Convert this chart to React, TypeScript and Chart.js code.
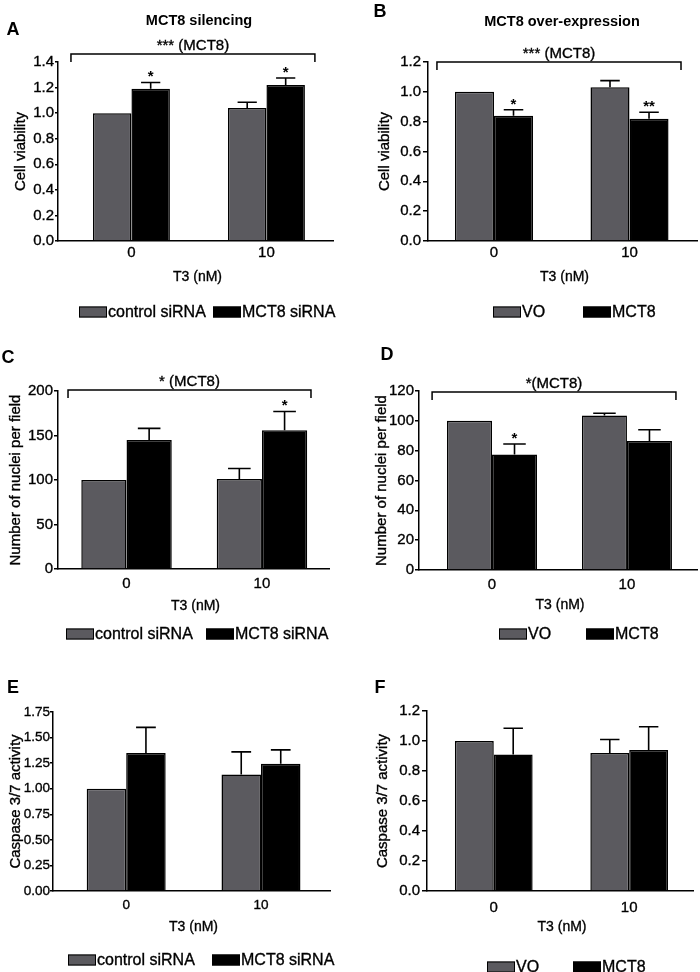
import React, { useEffect, useRef } from 'react';
import { Chart, registerables } from 'chart.js';

Chart.register(...registerables);

const FONT = '"Liberation Sans", Arial, Helvetica, sans-serif';
const GRAY = '#5b5a5f';
const BLACK = '#000000';

// x positions: T3 dose (nM)
const T3_DOSES = [0, 10];
const X_TITLE = 'T3 (nM)';

// A – cell viability, MCT8 silencing
const A_CONTROL = [1.0, 1.04];
const A_CONTROL_SEM = [0, 0.045];
const A_SIRNA = [1.19, 1.22];
const A_SIRNA_SEM = [0.05, 0.055];
const A_SIRNA_STARS = ['*', '*'];

// B – cell viability, MCT8 over-expression
const B_VO = [1.0, 1.03];
const B_VO_SEM = [0, 0.045];
const B_MCT8 = [0.84, 0.82];
const B_MCT8_SEM = [0.04, 0.043];
const B_MCT8_STARS = ['*', '**'];

// C – nuclei per field, MCT8 silencing
const C_CONTROL = [100, 101];
const C_CONTROL_SEM = [0, 12];
const C_SIRNA = [145, 156];
const C_SIRNA_SEM = [13, 21];
const C_SIRNA_STARS = ['', '*'];

// D – nuclei per field, MCT8 over-expression
const D_VO = [100, 103.5];
const D_VO_SEM = [0, 1.6];
const D_MCT8 = [77.5, 86.5];
const D_MCT8_SEM = [7, 7.5];
const D_MCT8_STARS = ['*', ''];

// E – caspase 3/7, MCT8 silencing
const E_CONTROL = [1.0, 1.14];
const E_CONTROL_SEM = [0, 0.22];
const E_SIRNA = [1.35, 1.245];
const E_SIRNA_SEM = [0.25, 0.135];

// F – caspase 3/7, MCT8 over-expression
const F_VO = [1.0, 0.92];
const F_VO_SEM = [0, 0.09];
const F_MCT8 = [0.91, 0.94];
const F_MCT8_SEM = [0.175, 0.155];

const NO_STARS = ['', ''];

type Series = { label: string; color: string; values: number[]; errors: number[]; stars: string[] };
type PanelSpec = {
  box: { x: number; y: number; w: number; h: number };
  area: { l: number; r: number; t: number; b: number };
  xMin: number; xMax: number;
  yMax: number; yStep: number; yDec: number; yTitle: string; yTitleX: number; yTickLen: number; yTickPad: number;
  tickSize: number;
  xTickCenter: number; xTitleY: number;
  catPct: number;
  letter: { text: string; x: number; y: number };
  title?: { text: string; x: number; y: number };
  bracket?: { text: string; from: number; to: number; y: number; drop: number };
  legend: { y: number; x: number[] };
  series: Series[];
};

const PANELS: PanelSpec[] = [
  {
    box: { x: 0, y: 0, w: 350, h: 330 },
    area: { l: 58, r: 333, t: 62, b: 241 },
    xMin: -5.44, xMax: 14.93,
    yMax: 1.4, yStep: 0.2, yDec: 1, yTitle: 'Cell viability', yTitleX: 21, yTickLen: 3, yTickPad: 1,
    tickSize: 15,
    xTickCenter: 12, xTitleY: 277, catPct: 0.57,
    letter: { text: 'A', x: 13, y: 30 },
    title: { text: 'MCT8 silencing', x: 199, y: 21 },
    bracket: { text: '*** (MCT8)', from: -4.48, to: 13.59, y: 1.462, drop: 1.4 },
    legend: { y: 312, x: [79, 213] },
    series: [
      { label: 'control siRNA', color: GRAY, values: A_CONTROL, errors: A_CONTROL_SEM, stars: NO_STARS },
      { label: 'MCT8 siRNA', color: BLACK, values: A_SIRNA, errors: A_SIRNA_SEM, stars: A_SIRNA_STARS },
    ],
  },
  {
    box: { x: 350, y: 0, w: 350, h: 330 },
    area: { l: 78, r: 347, t: 62, b: 241 },
    xMin: -4.87, xMax: 14.98,
    yMax: 1.2, yStep: 0.2, yDec: 1, yTitle: 'Cell viability', yTitleX: 35, yTickLen: 5, yTickPad: 2,
    tickSize: 15,
    xTickCenter: 12, xTitleY: 277, catPct: 0.576,
    letter: { text: 'B', x: 30, y: 12 },
    title: { text: 'MCT8 over-expression', x: 212, y: 22 },
    bracket: { text: '*** (MCT8)', from: -4.21, to: 13.8, y: 1.2, drop: 1.146 },
    legend: { y: 312, x: [143, 233] },
    series: [
      { label: 'VO', color: GRAY, values: B_VO, errors: B_VO_SEM, stars: NO_STARS },
      { label: 'MCT8', color: BLACK, values: B_MCT8, errors: B_MCT8_SEM, stars: B_MCT8_STARS },
    ],
  },
  {
    box: { x: 0, y: 330, w: 350, h: 320 },
    area: { l: 58, r: 329, t: 61, b: 239 },
    xMin: -5.06, xMax: 14.95,
    yMax: 200, yStep: 50, yDec: 0, yTitle: 'Number of nuclei per field', yTitleX: 16, yTickLen: 4, yTickPad: 1,
    tickSize: 15,
    xTickCenter: 15, xTitleY: 276, catPct: 0.668,
    letter: { text: 'C', x: 8, y: 28 },
    bracket: { text: '* (MCT8)', from: -4.32, to: 13.62, y: 201, drop: 192 },
    legend: { y: 304, x: [66, 206] },
    series: [
      { label: 'control siRNA', color: GRAY, values: C_CONTROL, errors: C_CONTROL_SEM, stars: NO_STARS },
      { label: 'MCT8 siRNA', color: BLACK, values: C_SIRNA, errors: C_SIRNA_SEM, stars: C_SIRNA_STARS },
    ],
  },
  {
    box: { x: 350, y: 330, w: 350, h: 320 },
    area: { l: 69, r: 347, t: 61, b: 240 },
    xMin: -5.41, xMax: 15.19,
    yMax: 120, yStep: 20, yDec: 0, yTitle: 'Number of nuclei per field', yTitleX: 32, yTickLen: 4, yTickPad: 1,
    tickSize: 15,
    xTickCenter: 15, xTitleY: 275, catPct: 0.667,
    letter: { text: 'D', x: 37, y: 25 },
    bracket: { text: '*(MCT8)', from: -4.44, to: 13.63, y: 119.3, drop: 114 },
    legend: { y: 304, x: [149, 236] },
    series: [
      { label: 'VO', color: GRAY, values: D_VO, errors: D_VO_SEM, stars: NO_STARS },
      { label: 'MCT8', color: BLACK, values: D_MCT8, errors: D_MCT8_SEM, stars: D_MCT8_STARS },
    ],
  },
  {
    box: { x: 0, y: 650, w: 350, h: 322 },
    area: { l: 53, r: 330, t: 62, b: 241 },
    xMin: -5.43, xMax: 15.12,
    yMax: 1.75, yStep: 0.25, yDec: 2, yTitle: 'Caspase 3/7 activity', yTitleX: 16, yTickLen: 3, yTickPad: 0,
    tickSize: 13.5,
    xTickCenter: 14, xTitleY: 277, catPct: 0.586,
    letter: { text: 'E', x: 13, y: 38 },
    legend: { y: 310, x: [68, 212] },
    series: [
      { label: 'control siRNA', color: GRAY, values: E_CONTROL, errors: E_CONTROL_SEM, stars: NO_STARS },
      { label: 'MCT8 siRNA', color: BLACK, values: E_SIRNA, errors: E_SIRNA_SEM, stars: NO_STARS },
    ],
  },
  {
    box: { x: 350, y: 650, w: 350, h: 322 },
    area: { l: 77, r: 343, t: 61, b: 241 },
    xMin: -4.93, xMax: 14.71,
    yMax: 1.2, yStep: 0.2, yDec: 1, yTitle: 'Caspase 3/7 activity', yTitleX: 33, yTickLen: 5, yTickPad: 2,
    tickSize: 15,
    xTickCenter: 17, xTitleY: 277, catPct: 0.574,
    letter: { text: 'F', x: 30, y: 38 },
    legend: { y: 317, x: [137, 223] },
    series: [
      { label: 'VO', color: GRAY, values: F_VO, errors: F_VO_SEM, stars: NO_STARS },
      { label: 'MCT8', color: BLACK, values: F_MCT8, errors: F_MCT8_SEM, stars: NO_STARS },
    ],
  },
];

const XTITLE_SIZE = 14;
const YTITLE_SIZE = 15;
const LEGEND_SIZE = 16;
const TEXT_STROKE = 0.35;

function strokeFill(ctx: CanvasRenderingContext2D, text: string, x: number, y: number) {
  ctx.lineWidth = TEXT_STROKE;
  ctx.strokeStyle = '#000';
  ctx.strokeText(text, x, y);
  ctx.fillText(text, x, y);
}

function makeDecor(s: PanelSpec) {
  return {
    id: 'decor',
    afterDatasetsDraw(chart: any) {
      const ctx = chart.ctx;
      const y = chart.scales.y;
      s.series.forEach((se, i) => {
        const meta = chart.getDatasetMeta(i);
        meta.data.forEach((bar: any, j: number) => {
          const v = se.values[j];
          const e = se.errors[j] || 0;
          const p = bar.getProps(['x', 'width'], true);
          const yTop = y.getPixelForValue(v + e);
          ctx.save();
          if (e > 0) {
            const yBar = y.getPixelForValue(v);
            ctx.strokeStyle = '#000';
            ctx.lineWidth = 1.6;
            ctx.beginPath();
            ctx.moveTo(p.x, yBar);
            ctx.lineTo(p.x, yTop);
            ctx.moveTo(p.x - p.width / 4, yTop);
            ctx.lineTo(p.x + p.width / 4, yTop);
            ctx.stroke();
          }
          if (se.stars[j]) {
            ctx.fillStyle = '#000';
            ctx.font = `bold 15px ${FONT}`;
            ctx.textAlign = 'center';
            ctx.textBaseline = 'alphabetic';
            ctx.fillText(se.stars[j], p.x, yTop - 1);
          }
          ctx.restore();
        });
      });
    },
    afterDraw(chart: any) {
      const ctx = chart.ctx;
      const x = chart.scales.x;
      const y = chart.scales.y;
      const area = chart.chartArea;
      ctx.save();
      ctx.fillStyle = '#000';
      ctx.strokeStyle = '#000';
      // panel letter
      ctx.font = `bold 18px ${FONT}`;
      ctx.textAlign = 'center';
      ctx.textBaseline = 'middle';
      ctx.fillText(s.letter.text, s.letter.x, s.letter.y);
      // title
      if (s.title) {
        ctx.font = `bold 14.5px ${FONT}`;
        ctx.fillText(s.title.text, s.title.x, s.title.y);
      }
      // axis titles
      ctx.font = `${XTITLE_SIZE}px ${FONT}`;
      strokeFill(ctx, X_TITLE, (area.left + area.right) / 2 + 2, s.xTitleY);
      ctx.save();
      ctx.translate(s.yTitleX, (area.top + area.bottom) / 2);
      ctx.rotate(-Math.PI / 2);
      ctx.font = `${YTITLE_SIZE}px ${FONT}`;
      strokeFill(ctx, s.yTitle, 0, 0);
      ctx.restore();
      // significance bracket
      if (s.bracket) {
        const b = s.bracket;
        const x1 = x.getPixelForValue(b.from);
        const x2 = x.getPixelForValue(b.to);
        const yl = y.getPixelForValue(b.y);
        const yd = y.getPixelForValue(b.drop);
        ctx.lineWidth = 1.5;
        ctx.beginPath();
        ctx.moveTo(x1, yd);
        ctx.lineTo(x1, yl);
        ctx.lineTo(x2, yl);
        ctx.lineTo(x2, yd);
        ctx.stroke();
        ctx.font = `15px ${FONT}`;
        ctx.textBaseline = 'alphabetic';
        strokeFill(ctx, b.text, (x1 + x2) / 2, yl - 4);
      }
      // legend
      ctx.font = `${LEGEND_SIZE}px ${FONT}`;
      ctx.textAlign = 'left';
      ctx.textBaseline = 'middle';
      s.series.forEach((se, i) => {
        const bx = s.legend.x[i];
        const bw = 28;
        const bh = 11;
        ctx.fillStyle = se.color;
        ctx.fillRect(bx, s.legend.y - bh / 2, bw, bh);
        ctx.lineWidth = 1;
        ctx.strokeStyle = '#000';
        ctx.strokeRect(bx + 0.5, s.legend.y - bh / 2 + 0.5, bw - 1, bh - 1);
        ctx.fillStyle = '#000';
        strokeFill(ctx, se.label, bx + bw + 1, s.legend.y + 1);
      });
      ctx.restore();
    },
  };
}

function buildConfig(s: PanelSpec): any {
  const a = s.area;
  const xBottom = s.xTitleY + (XTITLE_SIZE * 1.2) / 2;
  return {
    type: 'bar',
    data: {
      datasets: s.series.map((se) => ({
        label: se.label,
        data: se.values.map((v, i) => ({ x: T3_DOSES[i], y: v })),
        backgroundColor: se.color,
        borderColor: '#000',
        borderWidth: 1.5,
        categoryPercentage: s.catPct,
        barPercentage: 1,
      })),
    },
    options: {
      responsive: false,
      animation: false,
      events: [],
      layout: { padding: { left: 0, top: a.t, right: s.box.w - a.r, bottom: s.box.h - xBottom } },
      plugins: {
        legend: { display: false },
        tooltip: { enabled: false },
        title: { display: false },
      },
      scales: {
        x: {
          type: 'linear',
          min: s.xMin,
          max: s.xMax,
          offset: false,
          grid: { display: false, drawTicks: false, offset: false },
          border: { display: true, color: '#000', width: 1.5 },
          afterBuildTicks: (sc: any) => {
            sc.ticks = T3_DOSES.map((d) => ({ value: d }));
          },
          ticks: {
            color: '#000',
            font: { family: FONT, size: s.tickSize },
            padding: s.xTickCenter - (s.tickSize * 1.2) / 2,
            maxRotation: 0,
            autoSkip: false,
            textStrokeColor: '#000',
            textStrokeWidth: TEXT_STROKE,
            callback: (v: any) => String(v),
          },
          title: { display: false, text: X_TITLE },
          afterFit: (sc: any) => {
            sc.height = xBottom - a.b;
          },
        },
        y: {
          min: 0,
          max: s.yMax,
          grid: {
            display: true,
            drawOnChartArea: false,
            drawTicks: true,
            tickLength: s.yTickLen,
            color: '#000',
            lineWidth: 1.5,
          },
          border: { display: true, color: '#000', width: 1.5 },
          ticks: {
            stepSize: s.yStep,
            color: '#000',
            font: { family: FONT, size: s.tickSize },
            padding: s.yTickPad,
            textStrokeColor: '#000',
            textStrokeWidth: TEXT_STROKE,
            callback: (v: any) => Number(v).toFixed(s.yDec),
          },
          title: { display: false, text: s.yTitle },
          afterFit: (sc: any) => {
            sc.width = a.l;
          },
        },
      },
    },
    plugins: [makeDecor(s)],
  };
}

function Panel({ spec }: { spec: PanelSpec }) {
  const ref = useRef<HTMLCanvasElement>(null);
  useEffect(() => {
    const chart = new Chart(ref.current as HTMLCanvasElement, buildConfig(spec));
    return () => chart.destroy();
  }, [spec]);
  return (
    <canvas
      ref={ref}
      width={spec.box.w}
      height={spec.box.h}
      style={{ position: 'absolute', left: spec.box.x, top: spec.box.y, width: spec.box.w, height: spec.box.h }}
    />
  );
}

export default function App() {
  return (
    <div style={{ position: 'absolute', left: 0, top: 0, width: 700, height: 972, background: '#fff', overflow: 'hidden' }}>
      {PANELS.map((p, i) => (
        <Panel key={i} spec={p} />
      ))}
    </div>
  );
}
